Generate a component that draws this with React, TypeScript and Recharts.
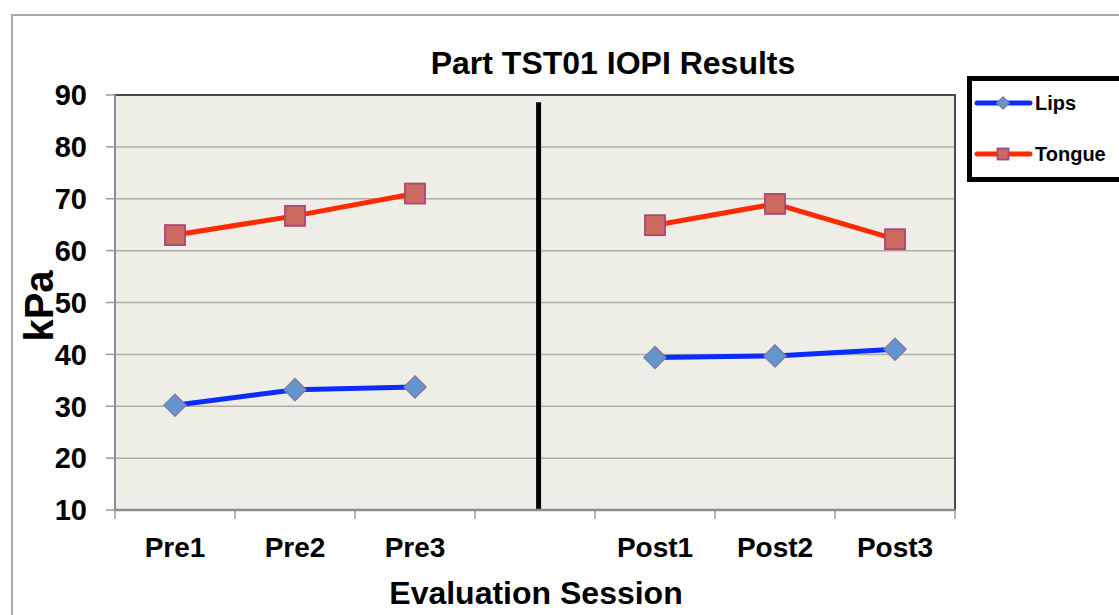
import React from "react";
import {
  LineChart,
  Line,
  XAxis,
  YAxis,
  CartesianGrid,
  ReferenceLine,
  ReferenceArea,
} from "recharts";

const categories = ["Pre1", "Pre2", "Pre3", "", "Post1", "Post2", "Post3"];
const lips = [30.2, 33.2, 33.7, null, 39.4, 39.7, 41.0];
const tongue = [63.0, 66.7, 71.0, null, 64.9, 69.0, 62.2];
const yTicks = [10, 20, 30, 40, 50, 60, 70, 80, 90];
const dividerX = 3.53;
const dividerTop = 88.6;

const FONT = "'Liberation Sans', Arial, Helvetica, sans-serif";
const LIPS_LINE = "#0a2cff";
const TONGUE_LINE = "#ff2a00";

const data = categories.map((name, i) => ({
  x: i + 0.5,
  name,
  lips: lips[i],
  tongue: tongue[i],
}));

// boundaries get tick marks, half steps carry the category names
const xTicks = categories.flatMap((_, i) => [i, i + 0.5]).concat(categories.length);

function Diamond({ cx, cy, r = 11 }: { cx: number; cy: number; r?: number }) {
  return (
    <polygon
      points={`${cx},${cy - r} ${cx + r},${cy} ${cx},${cy + r} ${cx - r},${cy}`}
      fill="#6495cd"
      stroke="#7b7bac"
      strokeWidth={1.5}
    />
  );
}

function Square({ cx, cy, s = 20 }: { cx: number; cy: number; s?: number }) {
  return (
    <rect
      x={cx - s / 2}
      y={cy - s / 2}
      width={s}
      height={s}
      fill="#cc6a60"
      stroke="#a8457a"
      strokeWidth={1.8}
    />
  );
}

const lipsDot = (p: any) =>
  p.cy == null ? <g key={p.key} /> : <Diamond key={p.key} cx={p.cx} cy={p.cy} />;
const tongueDot = (p: any) =>
  p.cy == null ? <g key={p.key} /> : <Square key={p.key} cx={p.cx} cy={p.cy} />;

function XTick({ x, y, payload }: any) {
  const v = payload.value as number;
  if (Number.isInteger(v)) {
    return <line x1={x} x2={x} y1={y} y2={y + 9} stroke="#9a9a9a" strokeWidth={1.5} />;
  }
  return (
    <text
      x={x}
      y={y + 47}
      textAnchor="middle"
      fill="#000"
      fontSize={28}
      fontWeight={700}
      fontFamily={FONT}
    >
      {categories[Math.floor(v)]}
    </text>
  );
}

function LegendBox() {
  const rows = [
    { label: "Lips", color: LIPS_LINE, y: 27, kind: "diamond" },
    { label: "Tongue", color: TONGUE_LINE, y: 78, kind: "square" },
  ];
  return (
    <svg width={200} height={106} style={{ display: "block" }}>
      <rect x={2.5} y={2.5} width={240} height={101} fill="#fff" stroke="#000" strokeWidth={5} />
      {rows.map((r) => (
        <g key={r.label}>
          <line x1={10} x2={63} y1={r.y} y2={r.y} stroke={r.color} strokeWidth={5} strokeLinecap="round" />
          {r.kind === "diamond" ? (
            <Diamond cx={36} cy={r.y} r={6} />
          ) : (
            <Square cx={36} cy={r.y} s={11} />
          )}
          <text x={68} y={r.y + 7} fontSize={20} fontWeight={700} fontFamily={FONT} fill="#000">
            {r.label}
          </text>
        </g>
      ))}
    </svg>
  );
}

export default function App() {
  return (
    <div
      style={{
        position: "absolute",
        left: 0,
        top: 0,
        width: 1119,
        height: 615,
        overflow: "hidden",
        background: "#fff",
      }}
    >
      <div
        style={{
          position: "absolute",
          left: 11,
          top: 14,
          width: 2000,
          height: 2000,
          borderLeft: "2px solid #a9a9a9",
          borderTop: "2px solid #a9a9a9",
        }}
      />
      <div
        style={{
          position: "absolute",
          left: 313,
          width: 600,
          top: 47,
          textAlign: "center",
          fontFamily: FONT,
          fontWeight: 700,
          fontSize: 32,
          lineHeight: 1,
          color: "#000",
        }}
      >
        Part TST01 IOPI Results
      </div>
      <div style={{ position: "absolute", left: 0, top: 0 }}>
        <LineChart
          width={1119}
          height={615}
          data={data}
          margin={{ top: 95, right: 164, bottom: 45, left: 0 }}
        >
          <CartesianGrid
            vertical={false}
            fill="#efeee6"
            stroke="#aeada6"
            strokeWidth={1.5}
          />
          <XAxis
            type="number"
            dataKey="x"
            domain={[0, categories.length]}
            ticks={xTicks}
            interval={0}
            height={60}
            tickSize={0}
            tickMargin={0}
            tickLine={false}
            tick={<XTick />}
            axisLine={{ stroke: "#8c8c8c", strokeWidth: 2.5 }}
            label={{
              content: ({ viewBox }: any) => (
                <text
                  x={viewBox.x + viewBox.width / 2 + 1}
                  y={viewBox.y + 94}
                  textAnchor="middle"
                  fontSize={32}
                  fontWeight={700}
                  fontFamily={FONT}
                  fill="#000"
                >
                  Evaluation Session
                </text>
              ),
            }}
          />
          <YAxis
            domain={[10, 90]}
            ticks={yTicks}
            interval={0}
            width={115}
            tickSize={9}
            tickMargin={19}
            tickLine={{ stroke: "#9a9a9a", strokeWidth: 1.5 }}
            axisLine={{ stroke: "#8c8c8c", strokeWidth: 2 }}
            tick={{ fill: "#000", fontSize: 29, fontWeight: 700, fontFamily: FONT }}
            label={{
              content: () => (
                <text
                  x={53}
                  y={306}
                  transform="rotate(-90, 53, 306)"
                  textAnchor="middle"
                  fontSize={40}
                  fontWeight={700}
                  fontFamily={FONT}
                  fill="#000"
                >
                  kPa
                </text>
              ),
            }}
          />
          <ReferenceArea
            x1={0}
            x2={categories.length}
            y1={10}
            y2={90}
            fill="none"
            stroke="#4a4a4a"
            strokeWidth={2}
          />
          <ReferenceLine
            segment={[
              { x: dividerX, y: dividerTop },
              { x: dividerX, y: 10 },
            ]}
            stroke="#000"
            strokeWidth={5}
          />
          <Line
            dataKey="lips"
            name="Lips"
            stroke={LIPS_LINE}
            strokeWidth={5}
            dot={lipsDot}
            activeDot={false}
            isAnimationActive={false}
          />
          <Line
            dataKey="tongue"
            name="Tongue"
            stroke={TONGUE_LINE}
            strokeWidth={5}
            dot={tongueDot}
            activeDot={false}
            isAnimationActive={false}
          />
        </LineChart>
      </div>
      <div style={{ position: "absolute", left: 967, top: 76 }}>
        <LegendBox />
      </div>
    </div>
  );
}
